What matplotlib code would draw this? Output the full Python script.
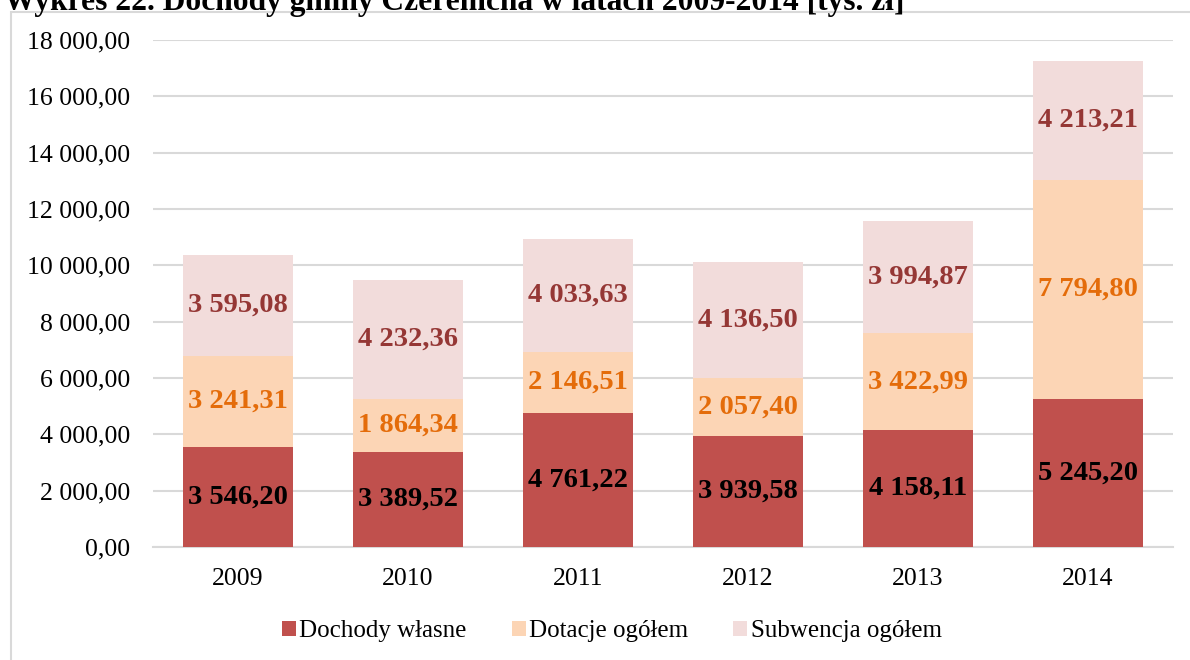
import matplotlib
matplotlib.use("Agg")
import matplotlib.pyplot as plt
from matplotlib.patches import Rectangle
import numpy as np

years = ["2009", "2010", "2011", "2012", "2013", "2014"]
dochody_wlasne = [3546.20, 3389.52, 4761.22, 3939.58, 4158.11, 5245.20]
dotacje = [3241.31, 1864.34, 2146.51, 2057.40, 3422.99, 7794.80]
subwencja = [3595.08, 4232.36, 4033.63, 4136.50, 3994.87, 4213.21]
series_names = ["Dochody własne", "Dotacje ogółem", "Subwencja ogółem"]
yticks = [0, 2000, 4000, 6000, 8000, 10000, 12000, 14000, 16000, 18000]
title = "Wykres 22. Dochody gminy Czeremcha w latach 2009-2014 [tys. zł]"

bar_colors = ["#C0504D", "#FCD5B5", "#F2DCDB"]
label_colors = ["#000000", "#E46C0A", "#953735"]

plt.rcParams["font.family"] = ["Liberation Serif", "DejaVu Serif"]

def fmt(v):
    s = f"{v:,.2f}"
    return s.replace(",", " ").replace(".", ",")

fig = plt.figure(figsize=(11.9, 6.6), dpi=100)
fig.patches.append(Rectangle((11/1190, -0.01), 1.0, 1.01 - 12/660, transform=fig.transFigure,
                             fill=False, edgecolor="#D9D9D9", linewidth=1.5, zorder=0))
fig.text(4/1190, 1 - 10/660, title, fontsize=22.7, fontweight="bold", ha="left", va="baseline")

ax = fig.add_axes([153/1190, 1 - 547/660, (1173 - 153)/1190, (547 - 40)/660])
x = np.arange(len(years))
w = 0.65
data = [dochody_wlasne, dotacje, subwencja]
bottom = np.zeros(len(years))
for vals, col, lcol, name in zip(data, bar_colors, label_colors, series_names):
    vals = np.array(vals)
    ax.bar(x, vals, w, bottom=bottom, color=col, label=name, zorder=3)
    for xi, b, v in zip(x, bottom, vals):
        ax.text(xi, b + v / 2, fmt(v), ha="center", va="center", color=lcol,
                fontsize=20.5, fontweight="bold", zorder=4)
    bottom = bottom + vals

ax.set_xlim(-0.5, len(years) - 0.5)
ax.set_ylim(0, 18000)
ax.set_yticks(yticks)
ax.set_yticklabels([fmt(t) for t in yticks], fontsize=18.5)
ax.set_xticks(x)
ax.set_xticklabels(years, fontsize=18.5)
ax.tick_params(axis="both", length=0)
ax.tick_params(axis="y", pad=16.5)
ax.tick_params(axis="x", pad=15)
ax.grid(axis="y", color="#D9D9D9", linewidth=1.5, zorder=0)
for s in ["top", "right", "left"]:
    ax.spines[s].set_visible(False)
ax.spines["bottom"].set_color("#D9D9D9")
ax.spines["bottom"].set_linewidth(1.5)

leg = fig.legend(loc="center", bbox_to_anchor=(612/1190, 1 - 631/660), ncol=3,
                 frameon=False, fontsize=18, handlelength=0.55, handleheight=0.55,
                 handletextpad=0.15, columnspacing=1.8)

fig.savefig("out.png", dpi=100)
